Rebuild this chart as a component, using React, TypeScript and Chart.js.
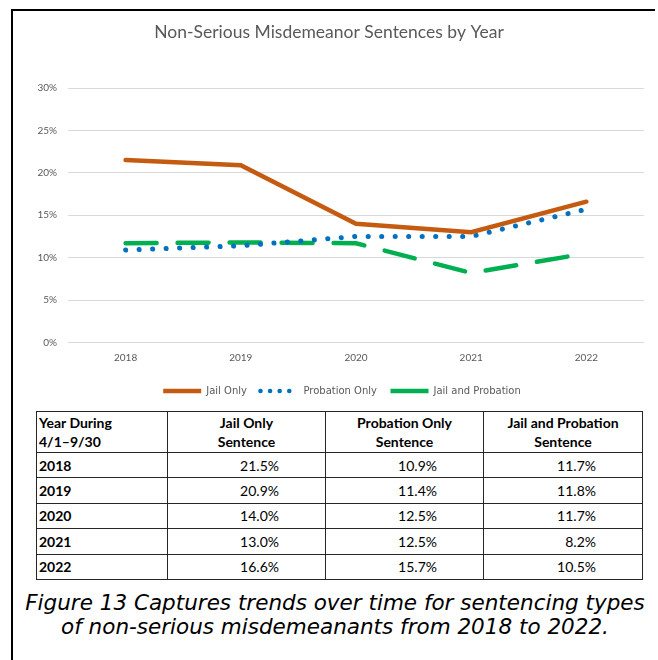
import React, { useEffect, useRef } from "react";
import { Chart, registerables } from "chart.js";

Chart.register(...registerables);

// Sentence shares (%) by year, April 1 – September 30
const years = ["2018", "2019", "2020", "2021", "2022"];
const jailOnly = [21.5, 20.9, 14.0, 13.0, 16.6];
const probationOnly = [10.9, 11.4, 12.5, 12.5, 15.7];
const jailAndProbation = [11.7, 11.8, 11.7, 8.2, 10.5];
const seriesNames = ["Jail Only", "Probation Only", "Jail and Probation"];
const yTicks = [0, 5, 10, 15, 20, 25, 30];

const ORANGE = "#C55A11";
const BLUE = "#0070C0";
const GREEN = "#00B050";
const GREY = "#595959";

const fmt = (v: number) => v.toFixed(1) + "%";

// Nudges the legend row sideways so it sits under the plot's centre
const legendShift = {
  id: "legendShift",
  afterLayout(chart: any) {
    const lg = chart.legend;
    if (!lg) return;
    lg.left += 13;
    lg.right += 13;
  },
};

function LineChart() {
  const ref = useRef<HTMLCanvasElement | null>(null);
  useEffect(() => {
    if (!ref.current) return;
    const legendDash: number[][] = [[], [0.1, 9.5], []];
    const chart = new Chart(ref.current, {
      type: "line",
      data: {
        labels: years,
        datasets: [
          {
            label: seriesNames[0],
            data: jailOnly,
            borderColor: ORANGE,
            backgroundColor: ORANGE,
            borderWidth: 4.5,
            borderCapStyle: "round",
            pointRadius: 0,
            pointStyle: "line",
            tension: 0,
          },
          {
            label: seriesNames[1],
            data: probationOnly,
            borderColor: BLUE,
            backgroundColor: BLUE,
            borderWidth: 5,
            borderCapStyle: "round",
            borderDash: [0.1, 13.4],
            pointRadius: 0,
            pointStyle: "line",
            tension: 0,
          },
          {
            label: seriesNames[2],
            data: jailAndProbation,
            borderColor: GREEN,
            backgroundColor: GREEN,
            borderWidth: 4.5,
            borderCapStyle: "round",
            borderDash: [31, 21],
            pointRadius: 0,
            pointStyle: "line",
            tension: 0,
          },
        ],
      },
      plugins: [legendShift],
      options: {
        responsive: false,
        animation: false,
        devicePixelRatio: 1,
        layout: { padding: { left: 0, right: 10, top: 0, bottom: 0 } },
        plugins: {
          tooltip: { enabled: false },
          title: {
            display: true,
            text: "Non-Serious Misdemeanor Sentences by Year",
            color: GREY,
            font: { family: "Lato", size: 17.5, weight: "normal" },
            padding: { top: 10, bottom: 45 },
          },
          legend: {
            position: "bottom",
            labels: {
              usePointStyle: true,
              pointStyleWidth: 38,
              padding: 13.5,
              color: GREY,
              font: { family: "DejaVu Sans", size: 10 },
              generateLabels: (c: any) =>
                c.data.datasets.map((ds: any, i: number) => ({
                  text: ds.label,
                  fillStyle: ds.borderColor,
                  strokeStyle: ds.borderColor,
                  fontColor: GREY,
                  lineWidth: 4.5,
                  lineCap: i === 1 ? "round" : "butt",
                  lineDash: legendDash[i],
                  pointStyle: "line",
                  hidden: false,
                  datasetIndex: i,
                })),
            },
          },
        },
        scales: {
          x: {
            offset: true,
            grid: { display: false, drawTicks: false },
            border: { display: false },
            ticks: {
              color: GREY,
              font: { family: "Lato", size: 10 },
              padding: 9,
            },
          },
          y: {
            min: 0,
            max: 30,
            afterBuildTicks: (s: any) => {
              s.ticks = yTicks.map((v) => ({ value: v }));
            },
            afterFit: (s: any) => {
              s.width = 54;
            },
            grid: { color: "#D9D9D9", lineWidth: 1, drawTicks: false },
            border: { display: false },
            ticks: {
              color: GREY,
              font: { family: "Lato", size: 10 },
              padding: 11,
              callback: (v: any) => v + "%",
            },
          },
        },
      },
    } as any);
    return () => chart.destroy();
  }, []);
  return <canvas ref={ref} width={640} height={394} style={{ display: "block" }} />;
}

const cellBase: React.CSSProperties = {
  border: "1px solid #262626",
  padding: "0 2px",
  lineHeight: "19px",
};

export default function App() {
  const rows = years.map((y, i) => [y, jailOnly[i], probationOnly[i], jailAndProbation[i]] as const);
  return (
    <div
      style={{
        position: "absolute",
        left: 0,
        top: 0,
        width: 658,
        height: 660,
        background: "#fff",
        overflow: "hidden",
      }}
    >
      <div
        style={{
          position: "absolute",
          left: 11,
          top: 9,
          width: 642,
          height: 660,
          borderLeft: "2px solid #000",
          borderTop: "2px solid #000",
        }}
      />
      <div style={{ position: "absolute", left: 14, top: 12 }}>
        <LineChart />
      </div>
      <table
        style={{
          position: "absolute",
          left: 36,
          top: 411,
          width: 606,
          borderCollapse: "collapse",
          tableLayout: "fixed",
          fontFamily: "Lato",
          fontSize: 14,
          color: "#000",
        }}
      >
        <colgroup>
          <col style={{ width: 131 }} />
          <col style={{ width: 158 }} />
          <col style={{ width: 158 }} />
          <col style={{ width: 159 }} />
        </colgroup>
        <thead>
          <tr style={{ height: 41 }}>
            <th style={{ ...cellBase, textAlign: "left", verticalAlign: "top", paddingTop: 1 }}>
              Year During
              <br />
              4/1–9/30
            </th>
            <th style={{ ...cellBase, verticalAlign: "top", paddingTop: 1 }}>
              Jail Only
              <br />
              Sentence
            </th>
            <th style={{ ...cellBase, verticalAlign: "top", paddingTop: 1 }}>
              Probation Only
              <br />
              Sentence
            </th>
            <th style={{ ...cellBase, verticalAlign: "top", paddingTop: 1 }}>
              Jail and Probation
              <br />
              Sentence
            </th>
          </tr>
        </thead>
        <tbody>
          {rows.map((r) => (
            <tr key={r[0]} style={{ height: 25.4 }}>
              <td style={{ ...cellBase, fontWeight: "bold" }}>{r[0]}</td>
              <td style={{ ...cellBase, textAlign: "right", paddingRight: 46 }}>{fmt(r[1])}</td>
              <td style={{ ...cellBase, textAlign: "right", paddingRight: 46 }}>{fmt(r[2])}</td>
              <td style={{ ...cellBase, textAlign: "right", paddingRight: 46 }}>{fmt(r[3])}</td>
            </tr>
          ))}
        </tbody>
      </table>
      <div
        style={{
          position: "absolute",
          left: 12,
          top: 591,
          width: 646,
          textAlign: "center",
          fontFamily: "DejaVu Sans",
          fontStyle: "italic",
          fontSize: 21.5,
          lineHeight: "24px",
          color: "#000",
          whiteSpace: "nowrap",
        }}
      >
        Figure 13 Captures trends over time for sentencing types
        <br />
        of non-serious misdemeanants from 2018 to 2022.
      </div>
    </div>
  );
}
